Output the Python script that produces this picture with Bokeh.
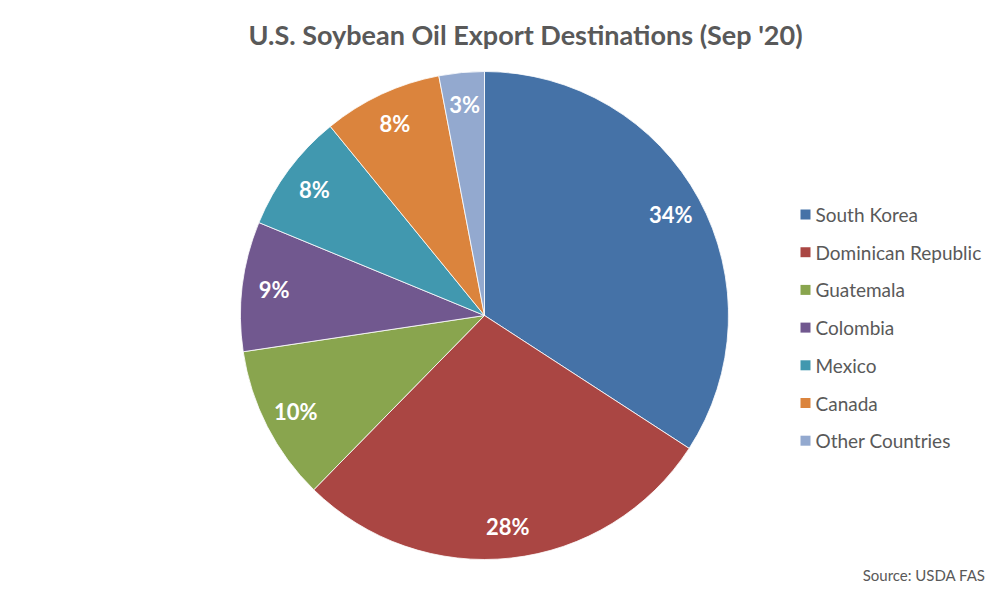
import numpy as np
from bokeh.plotting import figure
from bokeh.models import Range1d, ColumnDataSource
from bokeh.core.properties import value
from bokeh.embed import file_html
from bokeh.resources import INLINE

categories = ["South Korea", "Dominican Republic", "Guatemala", "Colombia",
              "Mexico", "Canada", "Other Countries"]
shares = [34.2, 28.2, 10.3, 8.6, 7.9, 7.9, 3.0]
labels = ["34%", "28%", "10%", "9%", "8%", "8%", "3%"]
colors = ["#4572A7", "#AA4643", "#89A54E", "#71588F", "#4198AF", "#DB843D", "#93A9CF"]
title_text = "U.S. Soybean Oil Export Destinations (Sep '20)"
source_text = "Source: USDA FAS"

W, H = 989, 585
# data coordinates: x = screen x, y = 601 - screen y
p = figure(width=W, height=H, output_backend="svg", toolbar_location=None,
           x_range=Range1d(0, W), y_range=Range1d(601 - H, 601),
           min_border=0, outline_line_color=None)
p.axis.visible = False
p.grid.visible = False
p.background_fill_color = "white"
p.border_fill_color = "white"

cx, cy, R = 484, 601 - 315, 244
frac = np.array(shares) / sum(shares)
cum = np.concatenate([[0], np.cumsum(frac)])
start = np.pi / 2 - 2 * np.pi * cum[:-1]
end = np.pi / 2 - 2 * np.pi * cum[1:]
mid = (start + end) / 2
lr = 212
src = ColumnDataSource(dict(start=start, end=end, color=colors, cat=categories,
                            lx=cx + lr * np.cos(mid), ly=cy + lr * np.sin(mid),
                            lab=labels))
p.wedge(x=cx, y=cy, radius=R, start_angle="start", end_angle="end",
        direction="clock", fill_color="color", line_color="white",
        line_width=0.8, source=src)
p.text(x="lx", y="ly", text="lab", source=src, text_color="white",
       text_font=value("Lato"), text_font_style="bold", text_font_size="22px",
       text_align="center", text_baseline="middle")

# title
p.text(x=[525], y=[601 - 34], text=[title_text], text_color="#595959",
       text_font=value("Lato"), text_font_style="bold", text_font_size="27px",
       text_align="center", text_baseline="middle")

# legend
ly0 = 214
step = 37.7
leg_y = [601 - (ly0 + i * step) for i in range(len(categories))]
p.rect(x=[805] * len(categories), y=leg_y, width=10, height=10,
       fill_color=colors, line_color=None)
p.text(x=[815] * len(categories), y=leg_y, text=categories, text_color="#595959",
       text_font=value("Lato"), text_font_size="19px",
       text_align="left", text_baseline="middle")

# source
p.text(x=[985], y=[601 - 574], text=[source_text], text_color="#595959",
       text_font=value("Lato"), text_font_size="15px",
       text_align="right", text_baseline="middle")

open("out.html", "w").write(file_html(p, INLINE))
